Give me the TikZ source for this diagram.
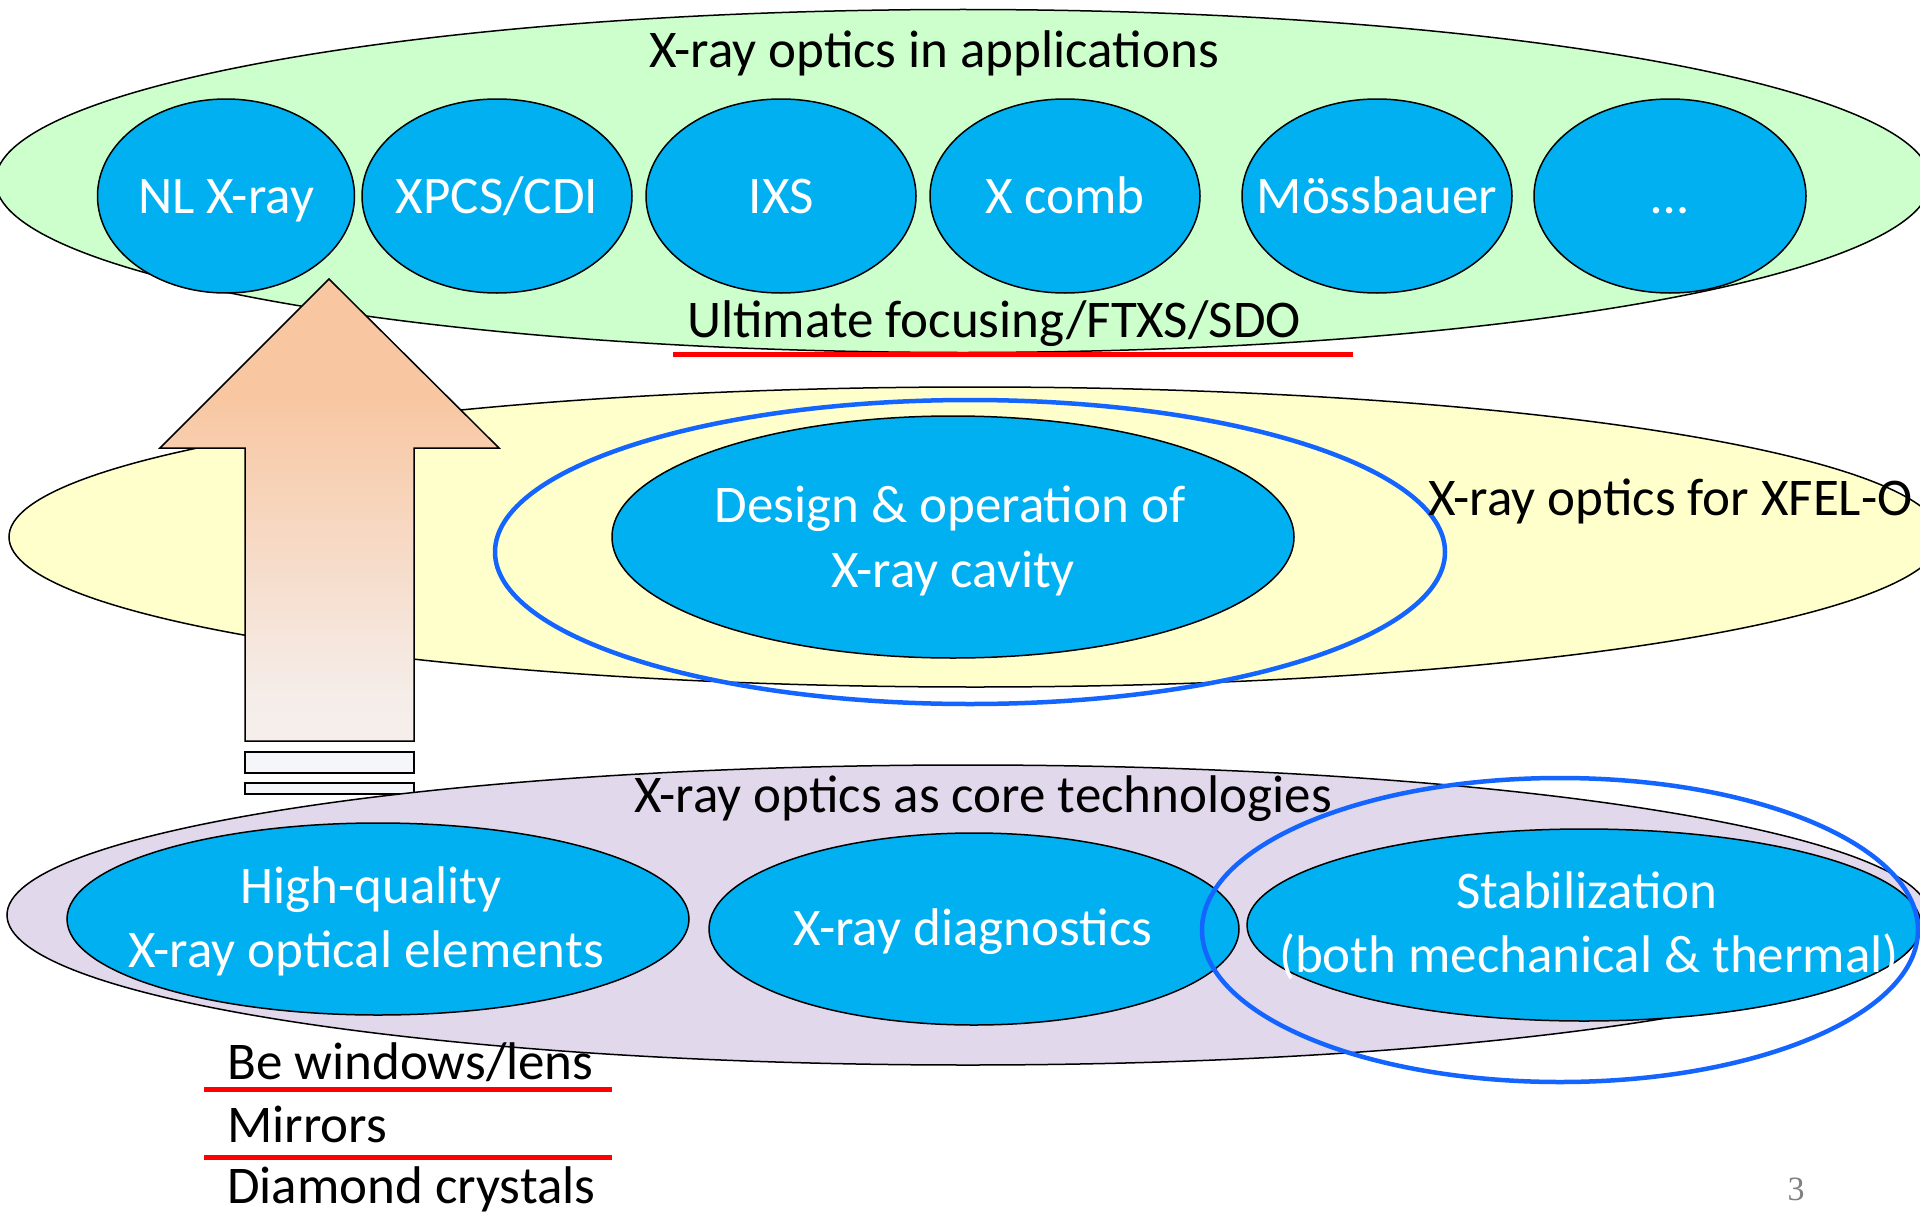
\documentclass[tikz,border=0pt]{standalone}
\usepackage{fontspec}
\setmainfont{Carlito}
\newfontfamily\pagenumfont{Liberation Serif}
\usetikzlibrary{shapes.geometric}
\definecolor{appgreen}{RGB}{204,255,204}
\definecolor{optyellow}{RGB}{255,255,204}
\definecolor{corepurple}{RGB}{225,216,236}
\definecolor{itemblue}{RGB}{0,176,240}
\definecolor{ringblue}{RGB}{20,100,255}
\definecolor{arrtop}{RGB}{248,198,160}
\definecolor{arrbot}{RGB}{244,245,248}
\definecolor{arrmid}{RGB}{245,237,233}
\definecolor{barfill}{RGB}{244,246,250}
\pgfdeclareverticalshading{arrowfade}{100bp}{color(0bp)=(arrbot); color(30bp)=(arrmid); color(63bp)=(arrtop); color(100bp)=(arrtop)}
\tikzset{
  bigell/.style={ellipse, draw=black, line width=1.5pt, inner sep=0pt, outer sep=0pt},
  itemell/.style={ellipse, draw=black, line width=1.5pt, fill=itemblue, inner sep=0pt, outer sep=0pt},
  ringell/.style={ellipse, draw=ringblue, line width=4.5pt, inner sep=0pt, outer sep=0pt},
  lbl/.style={anchor=base, inner sep=0pt, font=\fontsize{53}{64}\selectfont},
  wlbl/.style={lbl, text=white},
  redline/.style={draw=red, line width=5pt},
}
\begin{document}
\begin{tikzpicture}[x=1pt,y=-1pt]
\useasboundingbox (0,0) rectangle (1920,1215);
\clip (0,0) rectangle (1920,1215);
\fill[white] (0,0) rectangle (1920,1215);

% ---------- applications ----------
\node[bigell, fill=appgreen, minimum width=1935, minimum height=343] (app) at (963,181) {};
\node[lbl] (apptitle) at (934,67) {X-ray optics in applications};
\node[itemell, minimum width=257, minimum height=194] (nl) at (226,196) {};
\node[itemell, minimum width=270, minimum height=194] (xpcs) at (497,196) {};
\node[itemell, minimum width=270, minimum height=194] (ixs) at (781,196) {};
\node[itemell, minimum width=270, minimum height=194] (comb) at (1065,196) {};
\node[itemell, minimum width=270, minimum height=194] (moss) at (1377,196) {};
\node[itemell, minimum width=272, minimum height=194] (more) at (1670,196) {};
\node[wlbl] (nlt) at (226,213) {NL X-ray};
\node[wlbl] (xpcst) at (497,213) {XPCS/CDI};
\node[wlbl] (ixst) at (781,213) {IXS};
\node[wlbl] (combt) at (1065,213) {X comb};
\node[wlbl] (mosst) at (1377,213) {Mössbauer};
\node[wlbl] (moret) at (1670,213) {…};
\node[lbl] (ult) at (994,337) {Ultimate focusing/FTXS/SDO};
\coordinate (ulA) at (673,354);
\coordinate (ulB) at (1353,354);
\draw[redline] (ulA) -- (ulB);

% ---------- XFEL-O ----------
\node[bigell, fill=optyellow, minimum width=1932, minimum height=300] (xfelo) at (975,537) {};
\node[itemell, minimum width=682, minimum height=242] (cavity) at (953,537) {};
\node[wlbl] (cav1) at (950,522) {Design \& operation of};
\node[wlbl] (cav2) at (953,587) {X-ray cavity};
\node[ringell, minimum width=950, minimum height=304] (cavring) at (970,552) {};
\node[lbl, anchor=base west] (xfelot) at (1428,515) {X-ray optics for XFEL-O};

% ---------- arrow ----------
\draw[line width=1.5pt, shading=arrowfade]
  (329,279) -- (499,448) -- (414,448) -- (414,741) -- (245,741) -- (245,448) -- (160,448) -- cycle;
\draw[line width=1.5pt, fill=barfill] (245,752) rectangle (414,773);
\draw[line width=1.5pt, fill=barfill] (245,783) rectangle (414,794);

% ---------- core technologies ----------
\node[bigell, fill=corepurple, minimum width=1922, minimum height=300] (core) at (968,915) {};
\node[lbl] (coret) at (983,812) {X-ray optics as core technologies};
\node[itemell, minimum width=622, minimum height=192] (hq) at (378,919) {};
\node[itemell, minimum width=530, minimum height=192] (diag) at (974,929) {};
\node[itemell, minimum width=674, minimum height=192] (stab) at (1584,925) {};
\node[wlbl] (hq1) at (371,903) {High-quality};
\node[wlbl] (hq2) at (366,967) {X-ray optical elements};
\node[wlbl] (diagt) at (973,945) {X-ray diagnostics};
\node[wlbl] (stab1) at (1587,908) {Stabilization};
\node[wlbl] (stab2) at (1589,972) {(both mechanical \& thermal)};
\node[ringell, minimum width=716, minimum height=304] (stabring) at (1560,930) {};

% ---------- list ----------
\node[lbl, anchor=base west] (be) at (227,1079) {Be windows/lens};
\node[lbl, anchor=base west] (mir) at (227,1142) {Mirrors};
\node[lbl, anchor=base west] (dia) at (227,1203) {Diamond crystals};
\coordinate (r1A) at (204,1089);
\coordinate (r1B) at (612,1089);
\coordinate (r2A) at (204,1157);
\coordinate (r2B) at (612,1157);
\draw[redline] (r1A) -- (r1B);
\draw[redline] (r2A) -- (r2B);

\node[anchor=base, inner sep=0pt, text=gray, font=\pagenumfont\fontsize{34}{40}\selectfont] (pnum) at (1796,1200) {3};
\end{tikzpicture}
\end{document}
